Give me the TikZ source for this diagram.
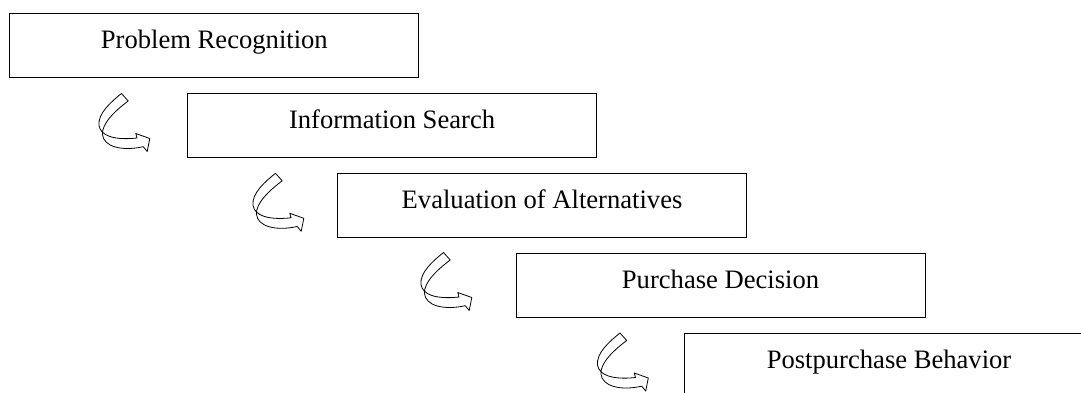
\documentclass[tikz,border=0pt]{standalone}
\usepackage{fontspec}
\setmainfont{Liberation Serif}
\usetikzlibrary{calc}

\tikzset{
  stage/.style={draw=black, line width=1.1pt, fill=white, anchor=north west,
    inner sep=0pt, minimum width=409pt, text height=35.6pt, text depth=28.7pt,
    font=\fontsize{26.6pt}{30pt}\selectfont},
  turnarrow/.pic={
    % twisted ribbon arrow: tail at the top, head pointing right
    \draw[line width=0.8pt, line join=round, fill=white]
      (0,0) .. controls (-10,8) and (-24,20) .. (-22.5,32)
            .. controls (-21,42) and (-8,47) .. (15.5,44.5)
      -- (14.3,40) -- (28.3,45) -- (25.7,58) -- (21.7,53.2)
      .. controls (0,58) and (-18,53) .. (-19,41)
      .. controls (-20,30) and (-6,17) .. (6.7,7.5)
      -- cycle;
  }
}

\begin{document}
\begin{tikzpicture}[x=1pt, y=-1pt]
  \useasboundingbox (0,0) rectangle (1081,392);
  \clip (0,0) rectangle (1081,392);

  \node[stage] (b1) at (9.3,12.7)   {Problem Recognition};
  \node[stage] (b2) at (187,92.7)   {Information Search};
  \node[stage] (b3) at (337,172.7)  {Evaluation of Alternatives};
  \node[stage] (b4) at (515.5,252.7){Purchase Decision};
  \node[stage] (b5) at (684,332.7)  {Postpurchase Behavior};

  \pic at ($(b2.north west)+(-65.5,0.8)$) {turnarrow};
  \pic at ($(b3.north west)+(-61.5,0.6)$) {turnarrow};
  \pic at ($(b4.north west)+(-72,-0.2)$)  {turnarrow};
  \pic at ($(b5.north west)+(-64,0.3)$)   {turnarrow};
\end{tikzpicture}
\end{document}
